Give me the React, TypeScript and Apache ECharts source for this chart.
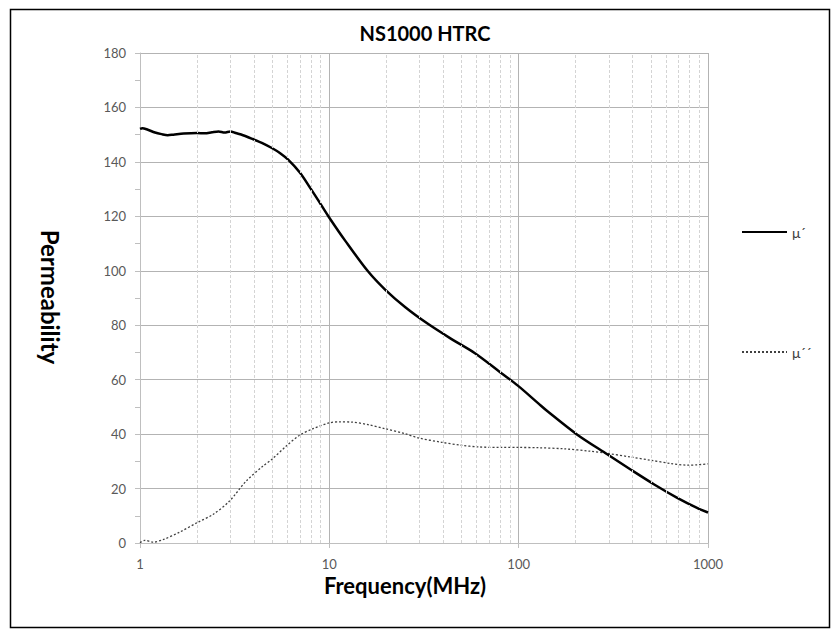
import React, { useEffect, useRef } from "react";
import * as echarts from "echarts";

const TITLE = "NS1000 HTRC";
const X_NAME = "Frequency(MHz)";
const Y_NAME = "Permeability";
const SERIES_NAMES = ["μ´", "μ´´"];

// μ′ (real permeability)
const F1 = [1, 1.03, 1.1, 1.2, 1.3, 1.4, 1.5, 1.7, 2.0, 2.2, 2.4, 2.6, 2.8, 3.0, 3.2, 3.5, 3.94, 4.4, 4.97, 5.5, 6.06, 7.0, 8.0, 9.0, 10, 12.2, 16, 19.7, 25.2, 33, 44, 58.5, 78, 99, 127, 142, 204, 295, 390, 520, 688, 875, 1000];
const V1 = [152.1, 152.4, 151.8, 150.8, 150.2, 149.8, 150.0, 150.4, 150.6, 150.5, 150.9, 151.2, 150.8, 151.2, 150.6, 149.8, 148.4, 147.0, 145.1, 143.2, 140.8, 136, 130, 124.5, 119.5, 110.8, 99.8, 93.1, 86.6, 80.6, 75.0, 69.8, 63.3, 57.8, 51.3, 48.4, 39.8, 32.5, 27.0, 21.5, 16.6, 12.9, 11.2];

// μ″ (imaginary permeability)
const F2 = [1, 1.06, 1.17, 1.33, 1.62, 2.02, 2.43, 2.97, 3.63, 4.45, 5.0, 5.9, 6.93, 8.14, 9.96, 11.26, 13.2, 16.0, 19.7, 25.2, 29.5, 39.2, 49.9, 61.1, 80.8, 99.4, 127, 174, 240, 295, 390, 498, 637, 780, 875, 1000];
const V2 = [0.1, 1.0, 0.3, 1.3, 4, 7.6, 10.5, 15.4, 22.7, 28.2, 30.9, 35.5, 39.5, 41.9, 44.1, 44.5, 44.4, 43.5, 42.0, 40.1, 38.6, 37.0, 35.9, 35.3, 35.1, 35.1, 35.0, 34.6, 33.7, 32.9, 31.6, 30.4, 29.2, 28.6, 28.7, 29.1];

// minor vertical gridlines of the log axis
const MINOR_X = [2, 3, 4, 5, 6, 7, 8, 9, 20, 30, 40, 50, 60, 70, 80, 90, 200, 300, 400, 500, 600, 700, 800, 900];

const FONT = "Lato, 'Open Sans', sans-serif";

export default function App() {
  const ref = useRef<HTMLDivElement>(null);
  useEffect(() => {
    if (!ref.current) return;
    const chart = echarts.init(ref.current, null, { renderer: "svg" });
    chart.setOption({
      animation: false,
      backgroundColor: "#ffffff",
      textStyle: { fontFamily: FONT },
      grid: { left: 140, right: 132, top: 53, bottom: 94 },
      graphic: [
        {
          type: "rect",
          shape: { x: 10.5, y: 9.5, width: 819, height: 618 },
          style: { fill: "none", stroke: "#000", lineWidth: 1.5 },
          silent: true,
        },
        {
          type: "text",
          x: 425,
          y: 33,
          style: { text: TITLE, font: `bold 20px ${FONT}`, fill: "#000", align: "center", verticalAlign: "middle" },
        },
        {
          type: "text",
          x: 405,
          y: 585,
          style: { text: X_NAME, font: `bold 22px ${FONT}`, fill: "#000", align: "center", verticalAlign: "middle" },
        },
        {
          type: "text",
          x: 50,
          y: 297,
          rotation: -Math.PI / 2,
          style: { text: Y_NAME, font: `bold 24px ${FONT}`, fill: "#000", align: "center", verticalAlign: "middle" },
        },
      ],
      legend: {
        data: SERIES_NAMES,
        orient: "vertical",
        left: 741,
        top: 225,
        padding: 0,
        itemWidth: 45,
        itemHeight: 14,
        itemGap: 106,
        itemStyle: { opacity: 0 },
        textStyle: { fontSize: 14, color: "#404040", fontFamily: FONT },
      },
      xAxis: {
        type: "log",
        logBase: 10,
        min: 1,
        max: 1000,
        axisLine: { show: true, lineStyle: { color: "#bfbfbf" } },
        axisTick: { show: true, length: 5, lineStyle: { color: "#bfbfbf" } },
        axisLabel: { color: "#595959", fontSize: 13, fontFamily: FONT, margin: 14, formatter: (v: number) => String(v) },
        splitLine: { show: true, lineStyle: { color: "#b3b3b3", width: 1 } },
      },
      yAxis: {
        type: "value",
        min: 0,
        max: 180,
        interval: 20,
        axisLine: { show: true, lineStyle: { color: "#bfbfbf" } },
        axisTick: { show: true, length: 5, lineStyle: { color: "#bfbfbf" } },
        minorTick: { show: true, splitNumber: 2, length: 5, lineStyle: { color: "#bfbfbf" } },
        axisLabel: { color: "#595959", fontSize: 13, fontFamily: FONT, margin: 14 },
        splitLine: { show: true, lineStyle: { color: "#b3b3b3", width: 1 } },
      },
      series: [
        {
          name: "minor",
          type: "line",
          data: [],
          silent: true,
          z: 1,
          markLine: {
            silent: true,
            symbol: ["none", "none"],
            label: { show: false },
            lineStyle: { color: "#d4d4d4", type: [3, 2], width: 1 },
            data: MINOR_X.map((x) => ({ xAxis: x })),
          },
        },
        {
          name: SERIES_NAMES[0],
          type: "line",
          data: F1.map((f, i) => [f, V1[i]]),
          symbol: "none",
          showSymbol: false,
          smooth: 0.3,
          z: 3,
          lineStyle: { color: "#000", width: 2.5 },
          itemStyle: { color: "#000" },
        },
        {
          name: SERIES_NAMES[1],
          type: "line",
          data: F2.map((f, i) => [f, V2[i]]),
          symbol: "none",
          showSymbol: false,
          smooth: 0.3,
          z: 2,
          lineStyle: { color: "#404040", width: 1.3, type: [2, 2] },
          itemStyle: { color: "#404040" },
        },
      ],
    });
    return () => chart.dispose();
  }, []);
  return (
    <div
      ref={ref}
      style={{ position: "absolute", left: 0, top: 0, width: 840, height: 637 }}
    />
  );
}
